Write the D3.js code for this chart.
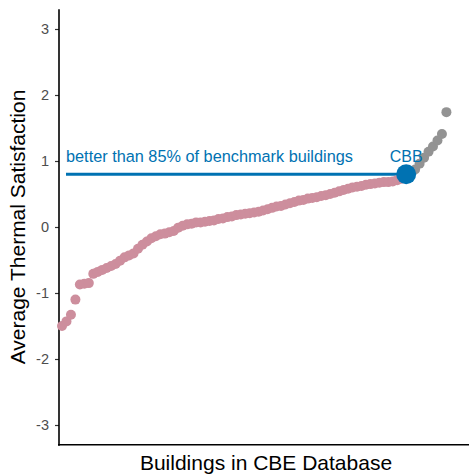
<!DOCTYPE html>
<html>
<head>
<meta charset="utf-8">
<script src="https://cdn.jsdelivr.net/npm/d3@7"></script>
<style>
	body { margin: 0; background: #fff; }
	svg { display: block; font-family: "Liberation Sans", Arial, sans-serif; }
</style>
</head>
<body>
<div id="chart"></div>
<script>
// data (sorted building scores)
// ----------------------------------------

var benchmark_below = [
	-1.50, -1.43, -1.33, -1.10, -0.87, -0.86, -0.85, -0.71, -0.68, -0.65,
	-0.62, -0.59, -0.56, -0.51, -0.46, -0.43, -0.40, -0.33, -0.27, -0.22,
	-0.17, -0.14, -0.11, -0.10, -0.08, -0.06, -0.01, 0.02, 0.04, 0.05,
	0.07, 0.07, 0.08, 0.09, 0.10, 0.12, 0.13, 0.15, 0.16, 0.18,
	0.19, 0.20, 0.21, 0.22, 0.23, 0.25, 0.27, 0.29, 0.31, 0.32,
	0.34, 0.36, 0.38, 0.40, 0.41, 0.43, 0.44, 0.45, 0.47, 0.48,
	0.50, 0.52, 0.54, 0.56, 0.58, 0.60, 0.61, 0.62, 0.64, 0.65,
	0.66, 0.67, 0.68, 0.68, 0.69, 0.71, 0.73
];
var cbb_value = 0.80;
var benchmark_above = [0.82, 0.87, 0.96, 1.05, 1.14, 1.22, 1.31, 1.41, 1.74];

var y_ticks = [-3, -2, -1, 0, 1, 2, 3];
var y_title = "Average Thermal Satisfaction";
var x_title = "Buildings in CBE Database";
var cbb_label = "CBB";
var benchmark_label = "better than 85% of benchmark buildings";

// main variables
// ----------------------------------------

var width = 469,
	height = 475;

var pink = "#cd8e9d",
	grey = "#939393",
	blue = "#0072b2";

var svg = d3.select("#chart")
	.append("svg")
	.attr("width", width)
	.attr("height", height);

var n = benchmark_below.length + 1 + benchmark_above.length;

var x = d3.scaleLinear()
	.domain([0, n - 1])
	.range([62, 446.4]);

var y = d3.scaleLinear()
	.domain([-3.3, 3.3])
	.range([444.8, 9.2]);

// axes
// ----------------------------------------

var y_axis = svg.append("g")
	.attr("transform", "translate(59,0)")
	.call(d3.axisLeft(y).tickValues(y_ticks).tickSize(4).tickPadding(6)
		.tickFormat(function(d) { return String(d); }));

y_axis.select(".domain").remove();
y_axis.selectAll(".tick line").attr("stroke", "#333").attr("stroke-width", 1.2);
y_axis.selectAll(".tick text")
	.attr("fill", "#4d4d4d")
	.style("font-size", "14.5px")
	.style("font-family", "Liberation Sans, Arial, sans-serif");

svg.append("line")
	.attr("x1", 59).attr("x2", 59)
	.attr("y1", y(3.3)).attr("y2", y(-3.3) + 1)
	.attr("stroke", "#000").attr("stroke-width", 1.6);

svg.append("line")
	.attr("x1", 58).attr("x2", width)
	.attr("y1", y(-3.3)).attr("y2", y(-3.3))
	.attr("stroke", "#000").attr("stroke-width", 1.6);

svg.append("text")
	.attr("transform", "translate(25," + y(0) + ") rotate(-90)")
	.attr("text-anchor", "middle")
	.style("font-size", "21px")
	.attr("fill", "#000")
	.text(y_title);

svg.append("text")
	.attr("x", 266)
	.attr("y", 470)
	.attr("text-anchor", "middle")
	.style("font-size", "21px")
	.attr("fill", "#000")
	.text(x_title);

// benchmark line
// ----------------------------------------

var cbb_index = benchmark_below.length;

svg.append("line")
	.attr("x1", 66)
	.attr("x2", x(cbb_index))
	.attr("y1", y(cbb_value))
	.attr("y2", y(cbb_value))
	.attr("stroke", blue)
	.attr("stroke-width", 3);

// points
// ----------------------------------------

svg.append("g")
	.selectAll("circle")
	.data(benchmark_below)
	.enter()
	.append("circle")
	.attr("cx", function(d, i) { return x(i); })
	.attr("cy", function(d) { return y(d); })
	.attr("r", 5)
	.attr("fill", pink);

svg.append("g")
	.selectAll("circle")
	.data(benchmark_above)
	.enter()
	.append("circle")
	.attr("cx", function(d, i) { return x(cbb_index + 1 + i); })
	.attr("cy", function(d) { return y(d); })
	.attr("r", 5)
	.attr("fill", grey);

svg.append("circle")
	.attr("cx", x(cbb_index))
	.attr("cy", y(cbb_value))
	.attr("r", 10)
	.attr("fill", blue);

// labels
// ----------------------------------------

svg.append("text")
	.attr("x", 66)
	.attr("y", y(cbb_value) - 12)
	.style("font-size", "16.3px")
	.attr("fill", blue)
	.text(benchmark_label);

svg.append("text")
	.attr("x", x(cbb_index))
	.attr("y", y(cbb_value) - 12)
	.attr("text-anchor", "middle")
	.style("font-size", "16px")
	.attr("fill", blue)
	.text(cbb_label);
</script>
</body>
</html>
